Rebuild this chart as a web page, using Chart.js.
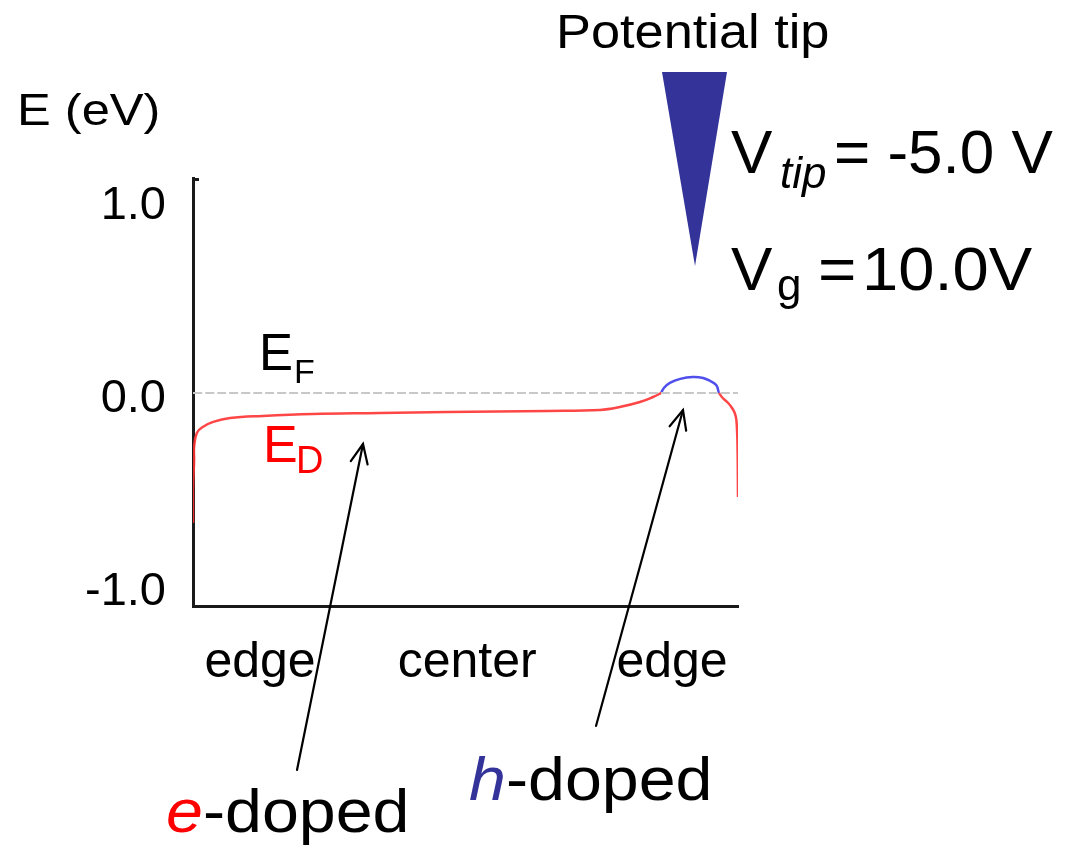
<!DOCTYPE html>
<html><head><meta charset="utf-8">
<script src="https://cdn.jsdelivr.net/npm/chart.js@4.4.0/dist/chart.umd.min.js"></script>
<style>html,body{margin:0;padding:0;background:#fff}#wrap{width:1070px;height:845px}</style>
</head><body><div id="wrap"><canvas id="c" width="1070" height="845"></canvas></div>
<script>
// Position across the ribbon (0 = left edge, 1 = right edge) and Dirac-point energy (eV)
const eDopedLeftX  = [0.000, 0.000, 0.002, 0.002, 0.007, 0.018, 0.037, 0.068, 0.128, 0.220, 0.343, 0.466, 0.650, 0.747, 0.783, 0.820, 0.844, 0.859];
const eDopedLeftE  = [-0.674, -0.503, -0.347, -0.280, -0.207, -0.176, -0.150, -0.130, -0.119, -0.109, -0.104, -0.098, -0.093, -0.088, -0.073, -0.047, -0.021, 0.000];
const hDopedX      = [0.859, 0.864, 0.875, 0.894, 0.917, 0.936, 0.949, 0.960, 0.965];
const hDopedE      = [0.000, 0.026, 0.052, 0.073, 0.083, 0.078, 0.062, 0.041, 0.000];
const eDopedRightX = [0.965, 0.972, 0.982, 0.989, 0.994, 0.997, 0.999, 1.000];
const eDopedRightE = [0.000, -0.026, -0.052, -0.078, -0.104, -0.140, -0.259, -0.539];
const fermiX = [0, 1];
const fermiE = [0, 0];
const yTickValues = [-1, 0, 1];
const xTickValues = [0.123, 0.503, 0.879];
const xTickLabels = ['edge', 'center', 'edge'];

const FONT = '"Liberation Sans", Arial, Helvetica, sans-serif';
const zip = (xs, ys) => xs.map((x, i) => ({x: x, y: ys[i]}));

const annotations = {
  id: 'annotations',
  afterDraw(chart) {
    const ctx = chart.ctx;
    const text = (s, x, y, size, color, opts = {}) => {
      ctx.save();
      ctx.font = (opts.italic ? 'italic ' : '') + size + 'px ' + FONT;
      ctx.fillStyle = color;
      ctx.textBaseline = 'alphabetic';
      ctx.textAlign = 'left';
      const sx = opts.sx || 1;
      ctx.translate(x, y);
      ctx.scale(sx, 1);
      ctx.fillText(s, 0, 0);
      const w = ctx.measureText(s).width * sx;
      ctx.restore();
      return w;
    };
    const arrow = (x0, y0, x1, y1) => {
      ctx.save();
      ctx.strokeStyle = '#000';
      ctx.lineWidth = 2.2;
      ctx.lineCap = 'round';
      ctx.beginPath(); ctx.moveTo(x0, y0); ctx.lineTo(x1, y1); ctx.stroke();
      const a = Math.atan2(y1 - y0, x1 - x0);
      const L = 21, s = 0.42;
      ctx.beginPath();
      ctx.moveTo(x1 - L * Math.cos(a - s), y1 - L * Math.sin(a - s));
      ctx.lineTo(x1, y1);
      ctx.lineTo(x1 - L * Math.cos(a + s), y1 - L * Math.sin(a + s));
      ctx.stroke();
      ctx.restore();
    };
    const area = chart.chartArea;
    // small stub at top of y axis
    ctx.save();
    ctx.strokeStyle = '#1a1a1a'; ctx.lineWidth = 3;
    ctx.beginPath(); ctx.moveTo(area.left, area.top + 1.5); ctx.lineTo(area.left + 6, area.top + 1.5); ctx.stroke();
    ctx.restore();

    // axis title
    text('E (eV)', 17, 125, 44, '#000', {sx: 1.15});
    // E_F
    text('E', 259, 370, 51, '#000');
    text('F', 294, 383, 34, '#000');
    // E_D
    text('E', 263, 462, 52, '#ff0000');
    text('D', 296, 473, 38, '#ff0000');

    // potential tip
    text('Potential tip', 556, 48, 48, '#000', {sx: 1.09});
    ctx.save();
    ctx.fillStyle = '#333399';
    ctx.beginPath(); ctx.moveTo(662, 72); ctx.lineTo(727, 72); ctx.lineTo(695, 266); ctx.closePath(); ctx.fill();
    ctx.restore();

    // voltages
    text('V', 731, 173, 62, '#000');
    text('tip', 780, 188, 44, '#000', {italic: true});
    text('= -5.0 V', 834, 173, 62, '#000');
    text('V', 731, 290, 62, '#000');
    text('g', 777, 300, 44, '#000');
    text('=', 818, 290, 62, '#000', {sx: 1.06});
    text('10.0V', 862, 290, 62, '#000', {sx: 1.05});

    // arrows
    arrow(297, 770, 363, 444);
    arrow(596, 726, 683, 410);

    // doped labels
    let w = text('e', 166, 832, 62, '#ff0000', {italic: true, sx: 1.07});
    text('-doped', 166 + w, 832, 62, '#000', {sx: 1.07});
    w = text('h', 469, 800, 62, '#333399', {italic: true, sx: 1.07});
    text('-doped', 469 + w, 800, 62, '#000', {sx: 1.07});
  }
};

const lineDs = (label, xs, ys, color, width, dash) => ({
  label: label,
  data: zip(xs, ys),
  borderColor: color,
  borderWidth: width,
  borderDash: dash || [],
  pointRadius: 0,
  tension: 0.4,
  fill: false,
  showLine: true
});

new Chart(document.getElementById('c'), {
  type: 'scatter',
  data: {
    datasets: [
      lineDs('E_F', fermiX, fermiE, '#c8c8c8', 2, [9, 3]),
      lineDs('e-doped (left)', eDopedLeftX, eDopedLeftE, 'rgba(255,50,50,0.9)', 2.5),
      lineDs('h-doped', hDopedX, hDopedE, 'rgba(60,60,235,0.9)', 2.5),
      lineDs('e-doped (right)', eDopedRightX, eDopedRightE, 'rgba(255,50,50,0.9)', 2.5)
    ]
  },
  options: {
    responsive: false,
    animation: false,
    devicePixelRatio: 1,
    layout: {padding: {left: 0, top: 178, right: 332, bottom: 0}},
    plugins: {legend: {display: false}, tooltip: {enabled: false}},
    scales: {
      x: {
        type: 'linear', min: 0, max: 1,
        afterBuildTicks: s => { s.ticks = xTickValues.map(v => ({value: v})); },
        afterFit: s => { s.height = 239; },
        ticks: {
          callback: (v, i) => xTickLabels[i],
          font: {size: 50, family: FONT}, color: '#000',
          padding: 27, autoSkip: false, maxRotation: 0
        },
        grid: {display: false, drawTicks: false},
        border: {display: true, color: '#1a1a1a', width: 3}
      },
      y: {
        type: 'linear', min: -1.104, max: 1.114,
        afterBuildTicks: s => { s.ticks = yTickValues.map(v => ({value: v})); },
        afterFit: s => { s.width = 193; },
        ticks: {
          callback: v => v.toFixed(1),
          font: {size: 47, family: FONT}, color: '#000',
          padding: 27, labelOffset: 6
        },
        grid: {display: false, drawTicks: false},
        border: {display: true, color: '#1a1a1a', width: 3}
      }
    }
  },
  plugins: [annotations]
});
</script>
</body></html>
